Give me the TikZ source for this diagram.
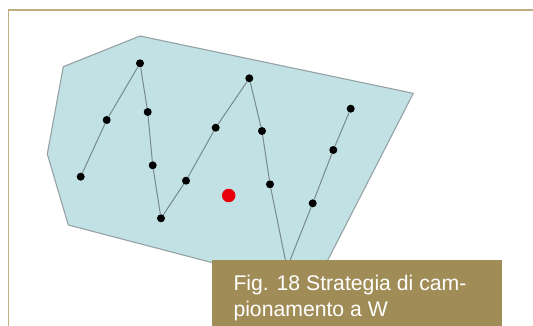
\documentclass[tikz,border=0pt]{standalone}
\usepackage{fontspec}
\setmainfont{Liberation Sans}
\definecolor{framec}{RGB}{190,174,130}
\definecolor{fieldc}{RGB}{193,225,229}
\definecolor{edgec}{RGB}{150,162,165}
\definecolor{pathc}{RGB}{120,138,142}
\definecolor{boxc}{RGB}{160,140,86}
\definecolor{redc}{RGB}{232,0,10}
\tikzset{
  dot/.style={circle,fill=black,inner sep=0pt,minimum size=8pt},
  reddot/.style={circle,fill=redc,inner sep=0pt,minimum size=13.5pt},
  wline/.style={draw=pathc,line width=1pt},
  captext/.style={text=white,inner sep=0pt,align=left,font=\fontsize{21.2}{25.5}\selectfont}
}
\begin{document}
\begin{tikzpicture}[x=1pt,y=-1pt]
\useasboundingbox (0,0) rectangle (533,326);
\fill[white] (0,0) rectangle (533,326);
% frame
\draw[framec,line width=1.6pt] (8.3,326) -- (8.3,10) -- (533,10);
% field polygon
\draw[fill=fieldc,draw=edgec,line width=1.1pt,line join=round]
  (140,36) -- (413.3,93.3) -- (313,289) -- (68.3,225) -- (47.3,154) -- (63.3,66.7) -- cycle;
% sampling points
\node[dot] (p1) at (80.7,176.7) {};
\node[dot] (p2) at (106.7,120) {};
\node[dot] (p3) at (140,63.3) {};
\node[dot] (p4) at (147.7,112) {};
\node[dot] (p5) at (152.7,165.3) {};
\node[dot] (p6) at (161,218.3) {};
\node[dot] (p7) at (186,180.7) {};
\node[dot] (p8) at (215.7,127.7) {};
\node[dot] (p9) at (249.3,78.3) {};
\node[dot] (p10) at (262,131) {};
\node[dot] (p11) at (270,184.3) {};
\coordinate (wb) at (287,268);
\node[dot] (p12) at (312.7,203.3) {};
\node[dot] (p13) at (333.3,150) {};
\node[dot] (p14) at (350.7,108.7) {};
\node[reddot] (r) at (228.7,195.5) {};
% W path
\draw[wline] (p1) -- (p2) -- (p3) -- (p4) -- (p5) -- (p6) -- (p7) -- (p8) -- (p9) -- (p10) -- (p11) -- (wb) -- (p12) -- (p13) -- (p14);
% caption box
\fill[boxc] (211.7,260) rectangle (501.7,326);
\node[captext,anchor=north west] (cap) at (233.3,275) {Fig. 18 Strategia di cam-\\pionamento a W};
\end{tikzpicture}
\end{document}
